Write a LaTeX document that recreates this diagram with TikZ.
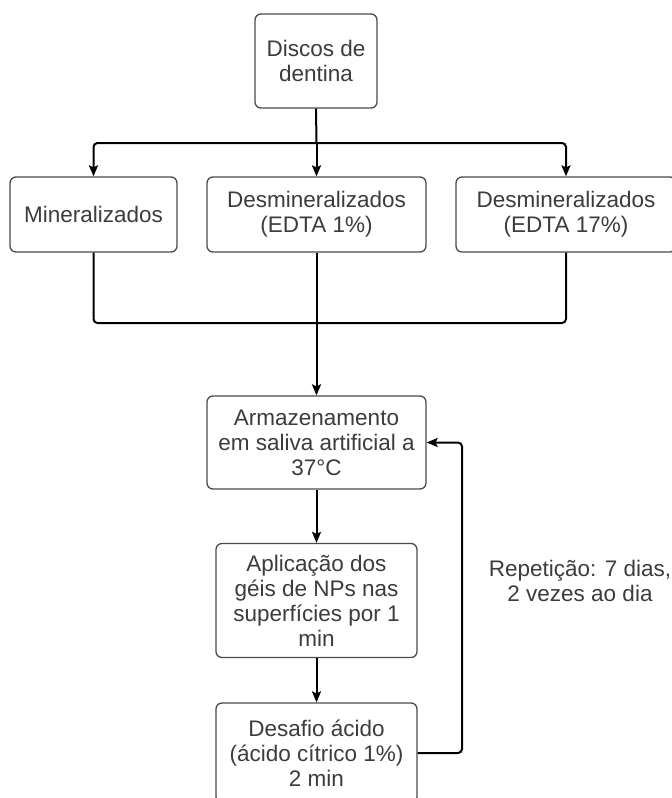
\documentclass[tikz,border=0pt]{standalone}
\usepackage{fontspec}
\setmainfont{Liberation Sans}
\usetikzlibrary{arrows.meta}
\definecolor{textcol}{RGB}{60,60,60}
\definecolor{boxcol}{RGB}{75,75,75}
\begin{document}
\begin{tikzpicture}[x=1pt,y=-1pt,
  box/.style={draw=boxcol, line width=1.3pt, rounded corners=6pt, fill=white, text=textcol,
    align=center, inner sep=0pt, font=\fontsize{22.5}{25}\selectfont},
  conn/.style={draw=black, line width=2pt, rounded corners=4pt},
  arr/.style={conn, -{Stealth[length=11pt,width=9pt,inset=2pt]}},
  lbl/.style={text=textcol, align=center, inner sep=0pt, font=\fontsize{22.5}{25}\selectfont}]
\useasboundingbox (0,0) rectangle (672,798);
\begin{scope}
\clip (0,0) rectangle (672,798);
\node[box, minimum width=122pt, minimum height=94pt] (disc) at (316,61) {Discos de\\dentina};
\node[box, minimum width=167pt, minimum height=75pt] (min) at (93.5,214.5) {Mineralizados};
\node[box, minimum width=219pt, minimum height=75pt] (d1) at (316.5,214.5) {Desmineralizados\\(EDTA 1\%)};
\node[box, minimum width=220pt, minimum height=75pt] (d17) at (566,214.5) {Desmineralizados\\(EDTA 17\%)};
\node[box, minimum width=219pt, minimum height=93pt] (arm) at (316.5,442.5) {Armazenamento\\em saliva artificial a\\37°C};
\node[box, minimum width=201pt, minimum height=114pt] (apl) at (316.5,600.5) {Aplicação dos\\géis de NPs nas\\superfícies por 1\\min};
\node[box, minimum width=201pt, minimum height=100pt] (des) at (316.5,753) {Desafio ácido\\(ácido cítrico 1\%)\\2 min};
\node[lbl] (rep) at (580,581) {Repetição: 7 dias,\\2 vezes ao dia};

\coordinate (split) at (316.5,143);
\coordinate (join) at (316.5,323);
\coordinate (loopx) at (462,0);

\draw[conn] (disc.south) -- (split);
\draw[arr] (split) -| (min.north);
\draw[arr] (split) -- (d1.north);
\draw[arr] (split) -| (d17.north);
\draw[conn] (min.south) |- (join);
\draw[conn] (d17.south) |- (join);
\draw[conn] (d1.south) -- (join);
\draw[arr] (join) -- (arm.north);
\draw[arr] (arm.south) -- (apl.north);
\draw[arr] (apl.south) -- (des.north);
\draw[arr] (des.east) -- (des.east -| loopx) |- (arm.east);
\end{scope}
\end{tikzpicture}
\end{document}
